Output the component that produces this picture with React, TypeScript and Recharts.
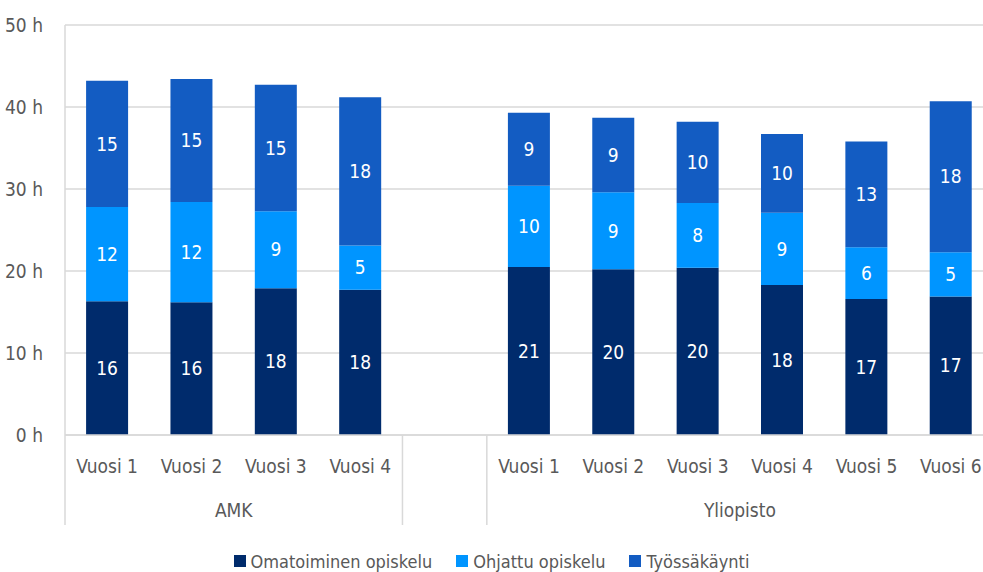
import { BarChart, Bar, XAxis, YAxis, CartesianGrid, Legend, LabelList } from "recharts";

const categories = ["Vuosi 1", "Vuosi 2", "Vuosi 3", "Vuosi 4", "", "Vuosi 1", "Vuosi 2", "Vuosi 3", "Vuosi 4", "Vuosi 5", "Vuosi 6"];
const groups = ["AMK", "AMK", "AMK", "AMK", "", "Yliopisto", "Yliopisto", "Yliopisto", "Yliopisto", "Yliopisto", "Yliopisto"];
const omatoiminen = [16.3, 16.2, 17.9, 17.7, null, 20.5, 20.2, 20.4, 18.3, 16.6, 16.9];
const ohjattu = [11.5, 12.2, 9.4, 5.4, null, 9.9, 9.4, 7.9, 8.8, 6.3, 5.4];
const tyossakaynti = [15.4, 15.0, 15.4, 18.1, null, 8.9, 9.1, 9.9, 9.6, 12.9, 18.4];
const yTicks = [0, 10, 20, 30, 40, 50];

const series = [
  { key: "oma", name: "Omatoiminen opiskelu", color: "#002B6C" },
  { key: "ohj", name: "Ohjattu opiskelu", color: "#0095FF" },
  { key: "tyo", name: "Työssäkäynti", color: "#135CC2" },
];

const data = categories.map((cat, i) => ({
  cat,
  group: groups[i],
  oma: omatoiminen[i],
  ohj: ohjattu[i],
  tyo: tyossakaynti[i],
}));

const FONT = "'DejaVu Sans', sans-serif";
const GRID = "#D9D9D9";
const TEXT = "#595959";
const FS = 19;

function CategoryTick(props: any) {
  const { x, y, payload, index, width } = props;
  const half = payload && payload.offset > 0 ? payload.offset : (width || 928) / (categories.length * 2);
  const g = groups[index];
  const isFirst = index === 0 || groups[index - 1] !== g;
  const isLast = index === groups.length - 1;
  let label = null;
  if (isFirst && g) {
    let n = 0;
    while (groups[index + n] === g) n++;
    label = (
      <text x={x + (n - 1) * half} y={y + 82} textAnchor="middle" fill={TEXT} fontSize={FS} fontFamily={FONT}>
        {g}
      </text>
    );
  }
  return (
    <g>
      <text x={x} y={y + 38} textAnchor="middle" fill={TEXT} fontSize={FS} fontFamily={FONT}>
        {payload.value}
      </text>
      {label}
      {isFirst && <line x1={x - half} x2={x - half} y1={y} y2={y + 90} stroke={GRID} strokeWidth={1.5} />}
      {isLast && <line x1={x + half} x2={x + half} y1={y} y2={y + 90} stroke={GRID} strokeWidth={1.5} />}
    </g>
  );
}

function LegendContent() {
  return (
    <div style={{ height: 42, paddingTop: 20, paddingRight: 10, display: "flex", justifyContent: "center", boxSizing: "border-box", fontFamily: FONT }}>
      {series.map((s) => (
        <div key={s.key} style={{ display: "flex", alignItems: "center", margin: "0 12px", height: 22 }}>
          <span style={{ width: 12, height: 12, background: s.color, marginRight: 5, display: "inline-block" }} />
          <span style={{ fontSize: 18, color: TEXT }}>{s.name}</span>
        </div>
      ))}
    </div>
  );
}

export default function App() {
  return (
    <div style={{ position: "absolute", left: 0, top: 0, width: 983, height: 572, overflow: "hidden", background: "#fff" }}>
      <style>{`.narrow, .narrow text, .narrow span { font-stretch: condensed; }`}</style>
      <div className="narrow">
        <BarChart
          width={1000}
          height={572}
          data={data}
          margin={{ top: 25, right: 7, left: 0, bottom: 0 }}
          barCategoryGap="25%"
          style={{ fontFamily: FONT }}
        >
          <CartesianGrid vertical={false} stroke={GRID} strokeWidth={1.5} />
          <XAxis
            dataKey="cat"
            height={95}
            axisLine={{ stroke: GRID, strokeWidth: 1.5 }}
            tickLine={false}
            tickSize={0}
            tickMargin={0}
            interval={0}
            tick={<CategoryTick />}
          />
          <YAxis
            domain={[0, 50]}
            ticks={yTicks}
            width={65}
            axisLine={{ stroke: GRID, strokeWidth: 1.5 }}
            tickLine={false}
            tickSize={0}
            tickMargin={22}
            tick={{ fill: TEXT, fontSize: FS, fontFamily: FONT }}
            tickFormatter={(v) => `${v} h`}
          />
          <Legend verticalAlign="bottom" content={<LegendContent />} />
          {series.map((s) => (
            <Bar key={s.key} dataKey={s.key} name={s.name} stackId="a" fill={s.color} isAnimationActive={false}>
              <LabelList
                dataKey={s.key}
                position="center"
                fill="#FFFFFF"
                fontSize={FS}
                fontFamily={FONT}
                formatter={(v: any) => (v == null ? "" : Math.round(v))}
              />
            </Bar>
          ))}
        </BarChart>
      </div>
    </div>
  );
}
